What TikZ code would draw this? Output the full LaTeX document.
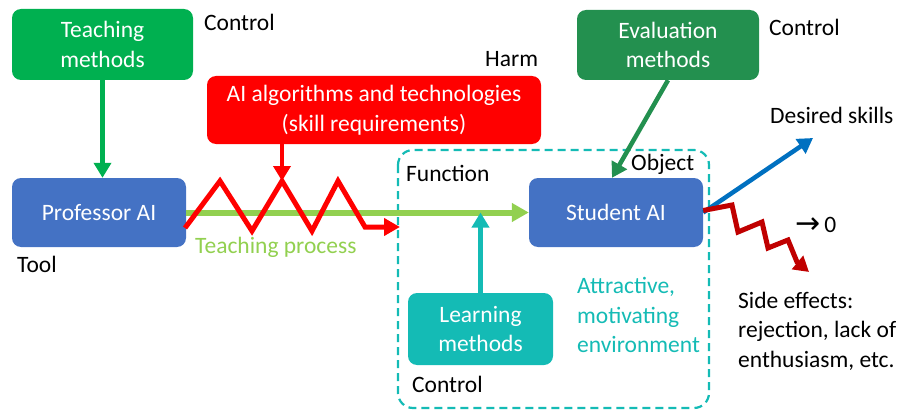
\documentclass[tikz,border=0pt]{standalone}
\usepackage{fontspec}
\setmainfont{Carlito}
\newfontfamily\symf{DejaVu Sans}
\usetikzlibrary{arrows.meta,calc}
\definecolor{tgreen}{HTML}{00B050}
\definecolor{egreen}{HTML}{23904F}
\definecolor{bblue}{HTML}{4472C4}
\definecolor{lgreen}{HTML}{92D050}
\definecolor{teal2}{HTML}{14BBB5}
\definecolor{arblue}{HTML}{0070C0}
\definecolor{dred}{HTML}{C00000}
\tikzset{
  every node/.style={font=\fontsize{23.5}{29.5}\selectfont},
  box/.style={rounded corners=9pt, inner sep=0pt, align=center, text=white},
  lbl/.style={anchor=base west, inner sep=0pt},
  arr/.style={line width=4.5pt, -{Triangle[length=15pt,width=17pt]}},
}
\begin{document}
\begin{tikzpicture}[x=1pt,y=-1pt]
\useasboundingbox (0,0) rectangle (906,412);
% dashed environment box
\draw[teal2, line width=2.2pt, dash pattern=on 8pt off 5pt, rounded corners=15pt] (398,150) rectangle (709,408);
% boxes
\node[box, fill=tgreen, minimum width=181pt, minimum height=71pt] (tm) at (102.5,44.5) {Teaching\\methods};
\node[box, fill=bblue, minimum width=174pt, minimum height=69pt] (pa) at (99,212.5) {Professor AI};
\node[box, fill=red, minimum width=334pt, minimum height=68pt] (ai) at (374,110) {AI algorithms and technologies\\(skill requirements)};
\node[box, fill=bblue, minimum width=174pt, minimum height=69pt] (sa) at (616,212.5) {Student AI};
\node[box, fill=teal2, minimum width=145pt, minimum height=72pt] (lm) at (480.5,329) {Learning\\methods};
\node[box, fill=egreen, minimum width=182pt, minimum height=70pt] (em) at (668,45) {Evaluation\\methods};
% labels
\node[lbl] (c1) at (204,31) {Control};
\node[lbl] (harm) at (485,67) {Harm};
\node[lbl] (c2) at (769,36) {Control};
\node[lbl] (ds) at (770,124) {Desired skills};
\node[lbl] (fn) at (406,182) {Function};
\node[lbl] (obj) at (631,170) {Object};
\node[lbl] (tool) at (17,272) {Tool};
\node[lbl, text=lgreen] (tp) at (195,253) {Teaching process};
\node[lbl] (c3) at (412,392) {Control};
\node[anchor=west, inner sep=0pt, align=left, text=teal2] (env) at (577,315) {Attractive,\\motivating\\environment};
\node[lbl] (zero) at (795,232) {\raisebox{-1pt}{\symf\fontsize{30}{30}\selectfont →}\,0};
\node[anchor=west, inner sep=0pt, align=left] (se) at (738,331) {Side effects:\\rejection, lack of\\enthusiasm, etc.};
% coordinates
\coordinate (zs) at (185,228);
\coordinate (zpk) at (282,181);
\coordinate (ze) at (400,227);
\coordinate (dsk) at (813,138);
\coordinate (lt) at (809,272);
% connectors
\draw[arr, tgreen] (tm.south) -- (tm.south |- pa.north);
\draw[line width=6pt, lgreen, -{Triangle[length=17pt,width=18pt]}] (pa.east) -- (sa.west);
\draw[arr, teal2] (lm.north) -- (lm.north |- sa.west);
\draw[arr, red] (ai.south -| zpk) -- (zpk);
\draw[line width=5pt, red, miter limit=10, -{Triangle[length=16pt,width=17pt]}]
  (zs) -- (220,181) -- (252,231) -- (zpk) -- (312,231) -- (338,181) -- (365,227) -- (ze);
\draw[arr, egreen] (em.south) -- ([xshift=-4pt]sa.north);
\draw[arr, arblue] (sa.east) -- (dsk);
\draw[line width=5pt, dred, -{Triangle[length=15pt,width=17pt]}]
  ([yshift=2pt]sa.east) -- (732,205) -- (738,232) -- (762,222) -- (768,248) -- (788,240) -- (797,262) -- (lt);
\end{tikzpicture}
\end{document}
